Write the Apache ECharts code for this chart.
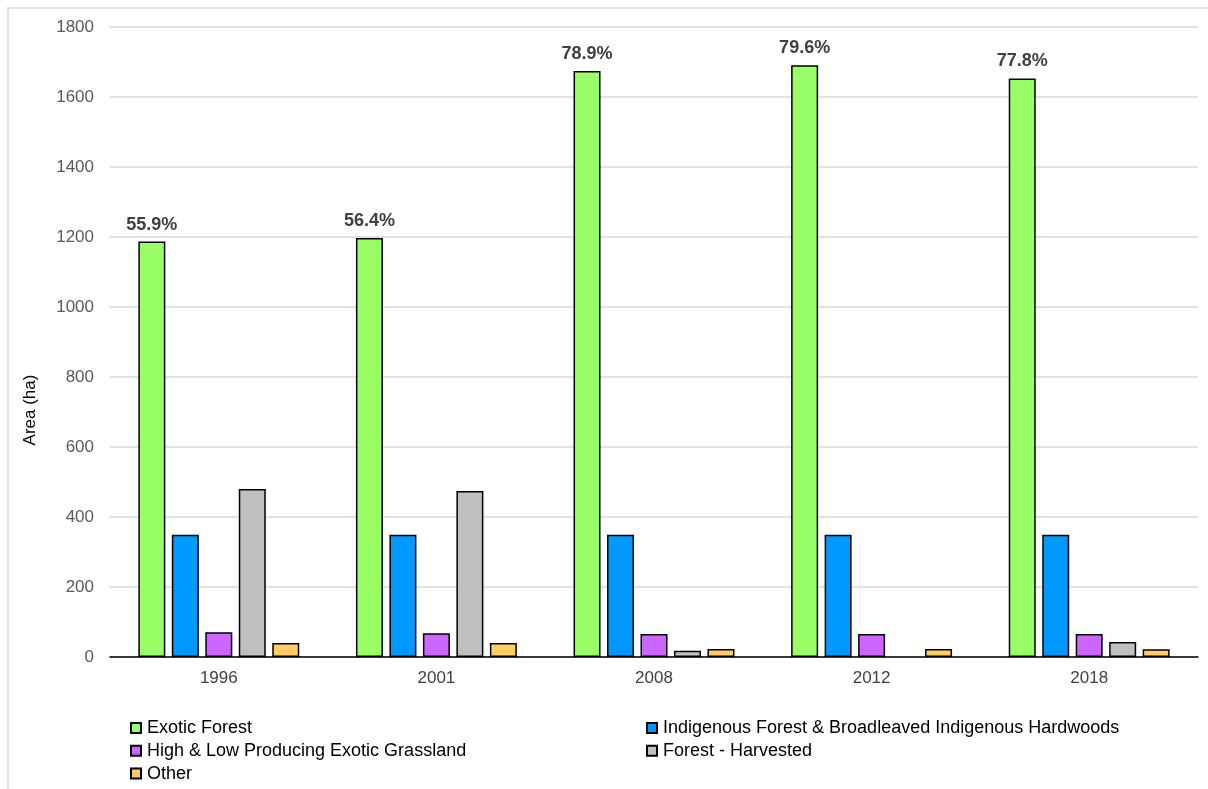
<!DOCTYPE html>
<html><head><meta charset="utf-8">
<script src="https://cdn.jsdelivr.net/npm/echarts@6/dist/echarts.min.js"></script>
<style>html,body{margin:0;padding:0;background:#fff}#c{width:1208px;height:789px}</style>
</head><body><div id="c"></div>
<script>
const categories = ['1996', '2001', '2008', '2012', '2018'];
const exoticForest = [1187, 1197, 1674, 1691, 1653];
const indigenousForest = [349, 349, 349, 349, 349];
const grassland = [71, 68, 66, 66, 66];
const harvested = [480, 474, 18, 0, 43];
const other = [40, 40, 23, 23, 22];
const exoticShare = ['55.9%', '56.4%', '78.9%', '79.6%', '77.8%'];
const yTicks = [0, 200, 400, 600, 800, 1000, 1200, 1400, 1600, 1800];

const font = 'Liberation Sans, Arial, sans-serif';
const chart = echarts.init(document.getElementById('c'), null, {renderer: 'canvas'});
function bar(name, data, color, extra) {
  return Object.assign({
    name, type: 'bar', data: data.map(v => v === 0 ? '-' : v), barWidth: 27, barGap: '24%',
    itemStyle: {color, borderColor: '#000', borderWidth: 1.5},
    emphasis: {disabled: true}
  }, extra || {});
}
const legendCommon = {
  orient: 'vertical', itemWidth: 10, itemHeight: 10, itemGap: 4.8, icon: 'rect', padding: 0,
  textStyle: {fontFamily: font, fontSize: 18, color: '#000', padding: [0, 0, 0, 1]},
  selectedMode: false
};
chart.setOption({
  animation: false,
  grid: {left: 110, right: 10, top: 27, bottom: 132, containLabel: false},
  xAxis: {
    type: 'category', data: categories,
    axisLine: {lineStyle: {color: '#000', width: 1.5}},
    axisTick: {show: false},
    axisLabel: {fontFamily: font, fontSize: 17, color: '#404040', margin: 13}
  },
  yAxis: {
    type: 'value', min: yTicks[0], max: yTicks[yTicks.length - 1], interval: 200,
    axisLine: {show: false}, axisTick: {show: false},
    splitLine: {lineStyle: {color: '#d9d9d9', width: 1.5}},
    axisLabel: {fontFamily: font, fontSize: 17, color: '#595959', margin: 16, formatter: v => String(v)}
  },
  legend: [
    Object.assign({left: 130, top: 719, data: ['Exotic Forest', 'High & Low Producing Exotic Grassland', 'Other']}, legendCommon),
    Object.assign({left: 646, top: 719, data: ['Indigenous Forest & Broadleaved Indigenous Hardwoods', 'Forest - Harvested']}, legendCommon)
  ],
  graphic: [
    {type: 'polyline', shape: {points: [[8, 789], [8, 8], [1208, 8]]}, style: {stroke: '#d9d9d9', lineWidth: 1.5, fill: null}},
    {type: 'text', x: 30, y: 410, rotation: Math.PI / 2,
     style: {text: 'Area (ha)', font: '17px ' + font, fill: '#000', textAlign: 'center', textVerticalAlign: 'middle'}}
  ],
  series: [
    bar('Exotic Forest', exoticForest, '#99ff66', {
      label: {show: true, position: 'top', distance: 8, formatter: p => exoticShare[p.dataIndex],
        fontFamily: font, fontSize: 18, fontWeight: 'bold', color: '#404040'}
    }),
    bar('Indigenous Forest & Broadleaved Indigenous Hardwoods', indigenousForest, '#0099ff'),
    bar('High & Low Producing Exotic Grassland', grassland, '#cc66ff'),
    bar('Forest - Harvested', harvested, '#c0c0c0'),
    bar('Other', other, '#ffcc66')
  ]
});
</script></body></html>
